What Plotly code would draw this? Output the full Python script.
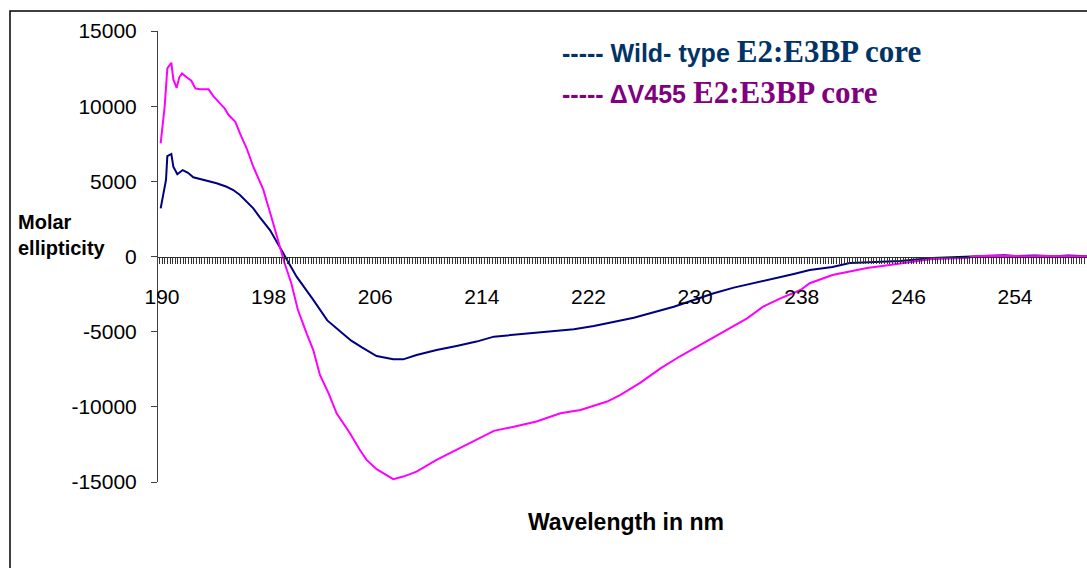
import plotly.graph_objects as go

# ---------------- data ----------------
wt_nm = [189.9, 190.3, 190.4, 190.7, 190.85, 191.15, 191.55, 191.95, 192.35, 192.7,
         193.35, 194.1, 194.85, 195.35, 195.85, 196.35, 196.85, 197.3, 198.1, 199.1,
         200.1, 201.35, 202.4, 203.6, 204.2, 205.0, 206.1, 207.35, 208.1, 209.1,
         210.6, 212.1, 213.6, 214.9, 216.4, 217.6, 219.4, 220.9, 222.4, 223.9,
         225.4, 226.9, 228.4, 229.9, 231.4, 232.9, 234.4, 235.9, 237.4, 238.6,
         240.3, 241.6, 243.6, 245.4, 247.8, 250.0, 252.0, 253.2, 254.0, 255.5,
         257.0, 258.0, 259.4]
wt_val = [3200, 5090, 6680, 6820, 5970, 5470, 5750, 5570, 5270, 5200,
          5040, 4870, 4640, 4420, 4090, 3640, 3200, 2650, 1760, 210,
          -1340, -2890, -4250, -5150, -5600, -6050, -6620, -6840, -6840, -6550,
          -6220, -5950, -5660, -5330, -5220, -5110, -5000, -4840, -4620, -4340,
          -4070, -3710, -3340, -2890, -2450, -2070, -1780, -1450, -1160, -900,
          -700, -430, -370, -300, -100, -30, 20, 80, 30, 60,
          20, 70, 20]

dv_nm = [189.9, 190.2, 190.4, 190.7, 190.85, 191.1, 191.3, 191.5, 191.85, 192.2,
         192.5, 192.85, 193.5, 193.85, 194.35, 194.7, 195.0, 195.5, 195.85, 196.35,
         196.85, 197.1, 197.6, 198.2, 198.7, 199.2, 199.7, 200.2, 200.85, 201.35,
         201.85, 202.5, 203.1, 204.1, 204.85, 205.35, 206.1, 207.35, 208.1, 209.1,
         210.6, 212.1, 213.6, 214.9, 216.4, 218.1, 219.9, 221.4, 223.4, 224.4,
         225.9, 227.4, 228.9, 230.4, 232.4, 233.9, 235.1, 236.4, 237.9, 238.6,
         240.3, 242.9, 244.6, 246.6, 247.8, 250.4, 251.0, 252.0, 253.0, 254.0,
         255.0, 256.0, 257.0, 259.4]
dv_val = [7530, 9960, 12510, 12890, 11780, 11220, 11920, 12180, 11920, 11690,
          11180, 11120, 11120, 10670, 10190, 9850, 9410, 8960, 8190, 7200,
          5970, 5500, 4450, 2650, 1100, -450, -1780, -3560, -5110, -6220,
          -7880, -9100, -10430, -11760, -12870, -13530, -14150, -14810, -14640, -14310,
          -13530, -12870, -12200, -11600, -11320, -10980, -10430, -10210, -9650, -9210,
          -8390, -7440, -6620, -5880, -4890, -4110, -3340, -2780, -2230, -1780,
          -1230, -760, -560, -300, -170, -100, 20, 50, 30, 40,
          20, 30, 20, 20]

x_tickvals = [190, 198, 206, 214, 222, 230, 238, 246, 254]
x_ticktext = ["190", "198", "206", "214", "222", "230", "238", "246", "254"]
y_tickvals = [-15000, -10000, -5000, 0, 5000, 10000, 15000]
y_ticktext = ["-15000", "-10000", "-5000", "0", "5000", "10000", "15000"]

# ---------------- layout geometry ----------------
W, H = 1087, 568
L, R, T, B = 158, 0, 31, 86
PW, PH = W - L - R, H - T - B


def px_x(px):
    return (px - L) / PW


def px_y(py):
    return (H - B - py) / PH


SANS = "Liberation Sans, Arial, sans-serif"
SERIF = "Liberation Serif, Times New Roman, serif"

fig = go.Figure()
fig.add_trace(go.Scatter(x=wt_nm, y=wt_val, mode="lines",
                         line=dict(color="#000080", width=2), showlegend=False))
fig.add_trace(go.Scatter(x=dv_nm, y=dv_val, mode="lines",
                         line=dict(color="#FF00FF", width=2), showlegend=False))

fig.update_layout(
    width=W, height=H,
    margin=dict(l=L, r=R, t=T, b=B),
    paper_bgcolor="white", plot_bgcolor="white",
    font=dict(family=SANS, color="black"),
    xaxis=dict(
        range=[189.7, 259.4],
        anchor="free", position=0.5,
        showgrid=False, zeroline=False,
        showline=True, linecolor="#303030", linewidth=1,
        tickmode="array", tickvals=x_tickvals, ticktext=x_ticktext,
        ticks="outside", ticklen=6, tickcolor="#333333", tickwidth=1,
        ticklabelstandoff=15,
        tickfont=dict(family=SANS, size=21, color="black"),
        minor=dict(dtick=0.2, tick0=190, ticks="outside", ticklen=6,
                   tickcolor="#333333", tickwidth=1, showgrid=False),
    ),
    yaxis=dict(
        range=[-15000, 15000],
        showgrid=False, zeroline=False,
        showline=True, linecolor="#404040", linewidth=1,
        tickmode="array", tickvals=y_tickvals, ticktext=y_ticktext,
        ticks="outside", ticklen=6, tickcolor="#404040", tickwidth=1,
        ticklabelstandoff=10,
        tickfont=dict(family=SANS, size=21, color="black"),
    ),
)

# outer chart border (left and top visible)
fig.add_shape(type="rect", xref="paper", yref="paper",
              x0=px_x(10), x1=px_x(1100), y0=px_y(600), y1=px_y(11),
              line=dict(color="black", width=1.5), fillcolor="rgba(0,0,0,0)")

# y-axis title
fig.add_annotation(xref="paper", yref="paper", x=px_x(16), y=px_y(235),
                   xanchor="left", yanchor="middle", align="left",
                   text="<b>Molar<br>ellipticity</b>", showarrow=False,
                   font=dict(family=SANS, size=20, color="black"))

# x-axis title
fig.add_annotation(xref="paper", yref="paper", x=px_x(626), y=px_y(522),
                   xanchor="center", yanchor="middle",
                   text="<b>Wavelength in nm</b>", showarrow=False,
                   font=dict(family=SANS, size=23, color="black"))

# legend-like text
fig.add_annotation(xref="paper", yref="paper", x=px_x(560), y=px_y(52),
                   xanchor="left", yanchor="middle", showarrow=False,
                   text=("<b>----- Wild- type </b><b><span style=\"font-family:" + SERIF +
                         ";font-size:31px\">E2:E3BP core</span></b>"),
                   font=dict(family=SANS, size=25, color="#003366"))
fig.add_annotation(xref="paper", yref="paper", x=px_x(560), y=px_y(92),
                   xanchor="left", yanchor="middle", showarrow=False,
                   text=("<b>----- \u0394V455 </b><b><span style=\"font-family:" + SERIF +
                         ";font-size:31px\">E2:E3BP core</span></b>"),
                   font=dict(family=SANS, size=25, color="#800080"))

fig.write_html("out.html")
